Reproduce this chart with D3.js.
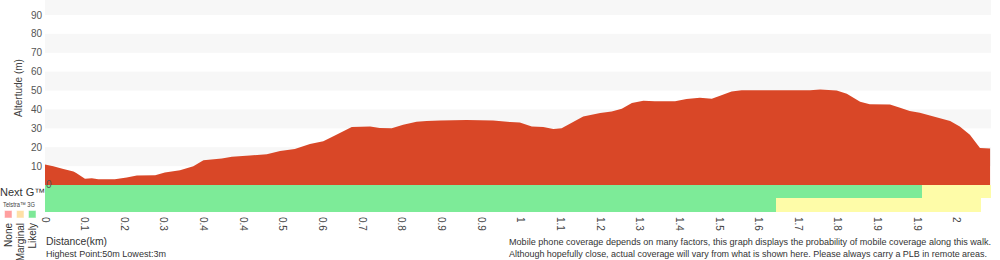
<!DOCTYPE html>
<html>
<head>
<meta charset="utf-8">
<script src="https://cdn.jsdelivr.net/npm/d3@7"></script>
<style>
  body { margin: 0; background: #fff; }
  svg { display: block; font-family: "Liberation Sans", Arial, sans-serif; }
</style>
</head>
<body>
<div id="chart"></div>
<script>
// elevation profile, distance in km / altitude in m
var distKm = [0, 0.018, 0.040, 0.062, 0.068, 0.087, 0.102, 0.116, 0.152, 0.178, 0.200, 0.240, 0.261, 0.294,
  0.323, 0.345, 0.385, 0.407, 0.446, 0.483, 0.512, 0.544, 0.577, 0.606, 0.628, 0.668, 0.708, 0.729, 0.755,
  0.780, 0.809, 0.831, 0.860, 0.918, 0.976, 1.013, 1.034, 1.060, 1.085, 1.107, 1.125, 1.150, 1.172, 1.209,
  1.234, 1.256, 1.278, 1.303, 1.328, 1.372, 1.397, 1.426, 1.452, 1.470, 1.495, 1.517, 1.557, 1.666, 1.688,
  1.724, 1.746, 1.775, 1.796, 1.840, 1.862, 1.883, 1.905, 1.927, 1.971, 1.992, 2.014, 2.036, 2.058];
var altM = [10.8, 9.9, 8.5, 7.1, 6.4, 3.3, 3.6, 3.1, 3.1, 4.0, 5.0, 5.2, 6.6, 7.8,
  9.9, 13.1, 14.0, 15.0, 15.6, 16.3, 18.0, 19.1, 21.7, 23.1, 25.8, 30.7, 31.0, 30.2, 30.0,
  31.9, 33.5, 33.9, 34.2, 34.4, 34.2, 33.3, 33.1, 31.0, 30.7, 29.7, 30.0, 33.3, 36.3, 38.1,
  38.9, 40.4, 43.4, 44.6, 44.4, 44.4, 45.5, 46.2, 45.6, 47.2, 49.5, 50.2, 50.2, 50.2, 50.6,
  50.0, 48.3, 44.1, 42.8, 42.6, 40.9, 39.2, 38.3, 36.8, 33.9, 31.0, 26.6, 19.6, 19.3];

var yTicks = [0, 10, 20, 30, 40, 50, 60, 70, 80, 90];
var bandFrom = [10, 30, 50, 70, 90];
var bandTo = [20, 40, 60, 80, 100];

// x tick labels (rounded distance, as printed)
var xTickLabels = ['0', '0.1', '0.2', '0.3', '0.4', '0.4', '0.5', '0.6', '0.7', '0.8', '0.9', '0.9',
  '1', '1.1', '1.2', '1.3', '1.4', '1.5', '1.6', '1.7', '1.8', '1.9', '1.9', '2'];
var xTickStepKm = 0.08634;

// coverage segments
var nextGFrom = [0, 1.909];
var nextGTo = [1.909, 2.06];
var nextGLevel = ['Likely', 'Marginal'];
var g3From = [0, 1.592];
var g3To = [1.592, 2.038];
var g3Level = ['Likely', 'Marginal'];

var levels = ['None', 'Marginal', 'Likely'];
var levelColor = { None: '#ff9a9a', Marginal: '#fefca8', Likely: '#7deb98' };
var legendColor = { None: '#ff9f9f', Marginal: '#fee0a6', Likely: '#7de897' };

var W = 1000, H = 260;
var svg = d3.select('#chart').append('svg').attr('width', W).attr('height', H);

var x = d3.scaleLinear().domain([0, 2.06]).range([45, 991]);
var y = d3.scaleLinear().domain([0, 90]).range([185, 15]);

// background bands
svg.append('g').selectAll('rect').data(bandFrom).enter().append('rect')
  .attr('x', x(0))
  .attr('width', x(2.06) - x(0))
  .attr('y', function(d, i) { return y(bandTo[i]); })
  .attr('height', function(d, i) { return y(d) - y(bandTo[i]); })
  .attr('fill', '#f7f7f7');

var profile = distKm.map(function(d, i) { return { km: d, m: altM[i] }; });
var area = d3.area()
  .x(function(d) { return x(d.km); })
  .y0(y(0))
  .y1(function(d) { return y(d.m); });
svg.append('path').datum(profile).attr('d', area).attr('fill', '#d94727');

// coverage rows
var rowTop = [185, 198];
var rowH = [13, 14];
function drawRow(from, to, lvl, r) {
  svg.append('g').attr('shape-rendering', 'crispEdges')
    .selectAll('rect').data(from).enter().append('rect')
    .attr('x', function(d) { return x(d); })
    .attr('width', function(d, i) { return x(to[i]) - x(d); })
    .attr('y', rowTop[r])
    .attr('height', rowH[r])
    .attr('fill', function(d, i) { return levelColor[lvl[i]]; });
}
drawRow(nextGFrom, nextGTo, nextGLevel, 0);
drawRow(g3From, g3To, g3Level, 1);

// y axis labels
svg.append('g').selectAll('text').data(yTicks.slice(1)).enter().append('text')
  .attr('x', 42)
  .attr('y', function(d) { return y(d); })
  .attr('dy', '0.35em')
  .attr('text-anchor', 'end')
  .attr('font-size', 10)
  .attr('fill', '#555')
  .text(function(d) { return d; });
svg.append('text')
  .attr('x', 46).attr('y', y(0) - 0.5).attr('dy', '0.35em')
  .attr('font-size', 10).attr('fill', '#555')
  .text(yTicks[0]);

svg.append('text')
  .attr('transform', 'translate(22,88) rotate(-90)')
  .attr('text-anchor', 'middle')
  .attr('font-size', 10)
  .attr('fill', '#444')
  .text('Altertude (m)');

// x tick labels, rotated
svg.append('g').selectAll('text').data(xTickLabels).enter().append('text')
  .attr('transform', function(d, i) { return 'translate(' + x(i * xTickStepKm) + ',217) rotate(90)'; })
  .attr('dy', '0.35em')
  .attr('font-size', 10)
  .attr('fill', '#444')
  .text(function(d) { return d; });

// row labels + legend
svg.append('text').attr('x', 0).attr('y', 196).attr('font-size', 11).attr('fill', '#333').text('Next G™');
svg.append('text').attr('x', 3).attr('y', 206.5).attr('font-size', 7).attr('fill', '#444')
  .attr('textLength', 32).attr('lengthAdjust', 'spacingAndGlyphs').text('Telstra™ 3G');

svg.append('g').selectAll('rect').data(levels).enter().append('rect')
  .attr('x', function(d, i) { return 4.5 + i * 12; })
  .attr('y', 210.5)
  .attr('width', 7.5).attr('height', 7.5)
  .attr('fill', function(d) { return legendColor[d]; })
  .attr('stroke', '#fff').attr('stroke-opacity', 0.5);

svg.append('g').selectAll('text').data(levels).enter().append('text')
  .attr('transform', function(d, i) { return 'translate(' + (12 + i * 12) + ',223) rotate(-90)'; })
  .attr('text-anchor', 'end')
  .attr('font-size', 10)
  .attr('fill', '#333')
  .text(function(d) { return d; });

// footer text
var foot = svg.append('g').attr('fill', '#333');
foot.append('text').attr('x', 46).attr('y', 245).attr('font-size', 10)
  .attr('textLength', 61).attr('lengthAdjust', 'spacingAndGlyphs').text('Distance(km)');
foot.append('text').attr('x', 46).attr('y', 257).attr('font-size', 9.4)
  .attr('textLength', 120).attr('lengthAdjust', 'spacingAndGlyphs').text('Highest Point:50m Lowest:3m');
foot.append('text').attr('x', 509).attr('y', 245).attr('font-size', 9)
  .attr('textLength', 482).attr('lengthAdjust', 'spacingAndGlyphs')
  .text('Mobile phone coverage depends on many factors, this graph displays the probability of mobile coverage along this walk.');
foot.append('text').attr('x', 509).attr('y', 257).attr('font-size', 9)
  .attr('textLength', 478).attr('lengthAdjust', 'spacingAndGlyphs')
  .text('Although hopefully close, actual coverage will vary from what is shown here. Please always carry a PLB in remote areas.');
</script>
</body>
</html>
